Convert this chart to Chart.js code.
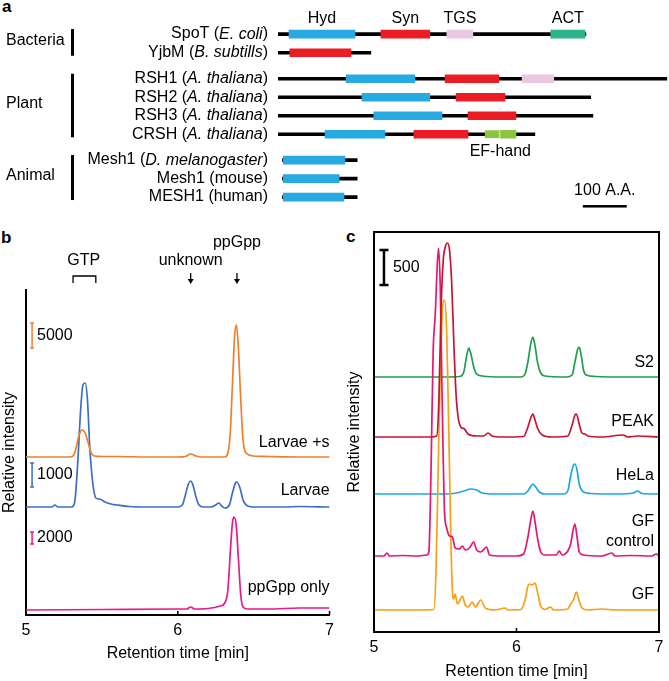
<!DOCTYPE html>
<html>
<head>
<meta charset="utf-8">
<script src="https://cdn.jsdelivr.net/npm/chart.js@4.4.1/dist/chart.umd.min.js"></script>
<style>
  body { margin: 0; background: #fff; }
  #fig { position: relative; width: 669px; height: 681px; overflow: hidden; font-family: "Liberation Sans", Arial, sans-serif; }
  #fig canvas { position: absolute; }
  .panel { position: absolute; font-weight: bold; font-size: 17px; line-height: 1; }
</style>
</head>
<body>
<div id="fig">
  <div class="panel" style="left:2px;top:-2px">a</div>
  <div class="panel" style="left:1px;top:229px">b</div>
  <div class="panel" style="left:346px;top:228px">c</div>
  <canvas id="aBact" width="669" height="64" style="left:0;top:0"></canvas>
  <canvas id="aPlant" width="669" height="96" style="left:0;top:64px"></canvas>
  <canvas id="aAnimal" width="669" height="64" style="left:0;top:148px"></canvas>
  <canvas id="chartB" width="340" height="451" style="left:0;top:230px"></canvas>
  <canvas id="chartC" width="339" height="451" style="left:330px;top:230px"></canvas>
</div>
<script>
// ---------- panel a : domain structure (amino acids) ----------
const bactNames = ['SpoT (*E. coli*)', 'YjbM (*B. subtills*)'];
const bactSpan  = [[0, 700], [0, 211]];
const bactHyd   = [[25, 175], null];
const bactSyn   = [[234, 345], [27, 166]];
const bactTGS   = [[384, 443], null];
const bactACT   = [[620, 698], null];

const plantNames = ['RSH1 (*A. thaliana*)', 'RSH2 (*A. thaliana*)', 'RSH3 (*A. thaliana*)', 'CRSH (*A. thaliana*)'];
const plantSpan  = [[0, 884], [0, 711], [0, 716], [0, 584]];
const plantHyd   = [[155, 311], [191, 345], [218, 373], [107, 243]];
const plantSyn   = [[380, 502], [405, 516], [432, 541], [309, 432]];
const plantTGS   = [[555, 627], null, null, null];
const plantEF1   = [null, null, null, [470, 505]];
const plantEF2   = [null, null, null, [505, 541]];

const animalNames = ['Mesh1 (*D. melanogaster*)', 'Mesh1 (mouse)', 'MESH1 (human)'];
const animalSpan  = [[10, 180], [10, 180], [10, 180]];
const animalHyd   = [[12, 152], [12, 139], [12, 150]];

const scaleBarAA = 100;
const scaleBarStart = 693;

// ---------- panel b : chromatograms ----------
const larvaeSX = [5.00,5.10,5.20,5.28,5.31,5.33,5.35,5.37,5.39,5.41,5.43,5.45,5.50,5.60,5.80,6.00,6.05,6.085,6.12,6.16,6.25,6.31,6.33,6.345,6.36,6.375,6.387,6.40,6.415,6.43,6.45,6.50,6.60,6.80,7.00];
const larvaeSY = [158,158,158,158,159,167,180,185,182,172,162,159,158.5,158.5,158,158,158.5,161,159,158,158,158,162,180,230,280,290,265,215,175,162,159,158.5,158,158];

const larvaeX = [5.00,5.10,5.17,5.19,5.21,5.30,5.32,5.34,5.36,5.375,5.39,5.405,5.42,5.44,5.46,5.48,5.50,5.52,5.56,5.60,5.68,5.80,6.00,6.03,6.05,6.07,6.085,6.10,6.12,6.14,6.17,6.22,6.25,6.27,6.29,6.31,6.34,6.36,6.38,6.39,6.41,6.43,6.46,6.50,6.70,6.80,7.00];
const larvaeY = [108,108,108,110,108,108,112,150,205,230,232,215,168,132,117,116,115,113,111,110,108.5,108,108,110,120,131,134,130,118,110,108,108,110,112,109,107,110,122,132,133,127,115,109,108,108,108.5,108];

const ppGppX = [5.00,5.50,6.00,6.06,6.085,6.11,6.20,6.28,6.31,6.33,6.345,6.36,6.37,6.385,6.40,6.415,6.43,6.46,6.60,6.80,7.00];
const ppGppY = [5,5.5,6,6,8,6,6.5,9,12,25,60,92,98,90,55,20,8,6,6,7,7];

const bNames  = ['Larvae +s', 'Larvae', 'ppGpp only'];
const bColors = ['#ef7f2f', '#3c6fc4', '#e8198b'];
const bNameY  = [172, 124, 27];
const bScaleLabels = ['5000', '1000', '2000'];
const bScaleLow  = [267, 128, 71];
const bScaleHigh = [292, 152, 83];
const bScaleX = 5.04;
const bAnnot  = ['GTP', 'unknown', 'ppGpp'];
const bAnnotX = [5.38, 6.085, 6.39];
const gtpBracket = [5.31, 5.46];

// ---------- panel c : chromatograms ----------
const s2X = [5.00,5.50,5.60,5.63,5.65,5.665,5.68,5.70,5.72,5.76,5.90,6.03,6.06,6.08,6.10,6.115,6.13,6.15,6.17,6.20,6.35,6.39,6.41,6.43,6.44,6.455,6.47,6.49,6.55,6.80,7.00];
const s2Y = [255,255,255.5,260,276,284,278,265,258,256,255,255,258,270,288,295,286,268,259,256,255,257,270,283,285,276,262,257,255.5,255,255];

const peakX = [5.00,5.20,5.40,5.44,5.455,5.47,5.485,5.50,5.515,5.53,5.545,5.56,5.575,5.59,5.61,5.635,5.66,5.72,5.77,5.80,5.83,5.90,6.05,6.08,6.10,6.115,6.13,6.15,6.18,6.25,6.36,6.39,6.41,6.42,6.44,6.46,6.48,6.50,6.60,6.75,6.78,6.85,7.00];
const peakY = [195,195,195,196,230,320,370,385,389,382,350,290,240,215,205,203,198,196,196,199,196,195,195.5,205,214,218,212,203,197,195,196,207,217,218,208,199,198,196,195,197,195,196,195];

const helaX = [5.00,5.50,5.58,5.63,5.68,5.72,5.76,5.85,6.05,6.08,6.10,6.115,6.13,6.16,6.20,6.33,6.36,6.38,6.40,6.41,6.425,6.44,6.47,6.52,6.70,6.82,6.85,6.88,7.00];
const helaY = [138,138,139,141,143,142,139,138,138,141,145.5,148,146,140,138,138,141,156,167,168,162,148,140,138.5,138,139,141,138.5,138];

const gfCtrlX = [5.00,5.07,5.09,5.11,5.20,5.30,5.37,5.385,5.40,5.415,5.43,5.445,5.453,5.465,5.475,5.485,5.495,5.51,5.53,5.55,5.57,5.60,5.62,5.64,5.67,5.70,5.72,5.75,5.79,5.81,5.90,6.00,6.05,6.08,6.10,6.115,6.13,6.15,6.17,6.20,6.28,6.30,6.32,6.36,6.38,6.40,6.41,6.425,6.44,6.47,6.60,6.67,6.69,6.80,6.95,6.98,7.00];
const gfCtrlY = [76,76,79,76,76.5,76,77,80,160,280,318,370,384,345,260,180,120,104,96,95,84,83,86,82,84,90,82,80,85,77,76,76,78,95,112,121,110,92,80,77,77,81,77,81,88,104,108,95,80,77,76,79,76,76.5,76,78,76];

const gfX = [5.00,5.30,5.42,5.435,5.45,5.465,5.48,5.495,5.51,5.525,5.54,5.55,5.56,5.57,5.585,5.60,5.62,5.64,5.66,5.69,5.71,5.75,5.78,5.85,5.92,5.94,6.03,6.06,6.08,6.09,6.11,6.13,6.15,6.17,6.20,6.24,6.26,6.36,6.38,6.40,6.42,6.44,6.46,6.50,6.60,6.70,7.00];
const gfY = [22,22,22.5,60,160,260,320,332,300,200,90,42,33,38,28,31,36,27,25,30,25,32,24,22,24,22,22.5,32,46,48,47,49,38,26,22.5,25,22,23,28,32,40,31,24,22,23,22,22];

const cNames  = ['S2', 'PEAK', 'HeLa', 'GF\ncontrol', 'GF'];
const cColors = ['#1f9e4b', '#c9142f', '#1ea6e3', '#e5176f', '#f7a115'];
const cNameY  = [269, 210, 156, 100, 37];
const cScaleLabel = '500';
const cScaleLow = 347, cScaleHigh = 382, cScaleX = 5.07;

// =============================================================
const FAMILY = '"Liberation Sans", Arial, sans-serif';
Chart.defaults.font.family = FAMILY;
Chart.defaults.font.size = 16;
Chart.defaults.color = '#000';
Chart.defaults.animation = false;
Chart.defaults.plugins.legend.display = false;
Chart.defaults.plugins.tooltip.enabled = false;

const domainColors = { Hyd: '#27a9e1', Syn: '#ec1c24', TGS: '#ebc8e2', ACT: '#2bb38b', 'EF-hand': '#8cc540' };

// label text with *italic* parts, right aligned
function drawMixed(ctx, text, xRight, y) {
  const parts = text.split('*');
  const widths = parts.map((p, i) => {
    ctx.font = (i % 2 ? 'italic ' : '') + '16px ' + FAMILY;
    return ctx.measureText(p).width;
  });
  let x = xRight - widths.reduce((a, b) => a + b, 0);
  ctx.textAlign = 'left';
  parts.forEach((p, i) => {
    ctx.font = (i % 2 ? 'italic ' : '') + '16px ' + FAMILY;
    ctx.fillText(p, x, y);
    x += widths[i];
  });
}

function domainPlugin(opts) {
  return {
    id: 'domainText',
    afterDatasetsDraw(chart) {
      const { ctx, chartArea: area, scales: { x, y } } = chart;
      const names = chart.data.labels;
      ctx.save();
      ctx.fillStyle = '#000';
      ctx.textBaseline = 'middle';
      names.forEach((nm, i) => drawMixed(ctx, nm, area.left - 10, y.getPixelForValue(i)));

      const y0 = y.getPixelForValue(0), y1 = y.getPixelForValue(names.length - 1);
      ctx.font = '16px ' + FAMILY;
      ctx.textAlign = 'left';
      ctx.fillText(opts.group, 6, (y0 + y1) / 2 - 3);
      ctx.fillRect(71, y0 - 5, 3, y1 - y0 + 8);

      ctx.textAlign = 'center';
      if (opts.titles) {
        chart.data.datasets.forEach(ds => {
          if (ds.label === 'backbone' || !ds.data[0]) return;
          const [s, e] = ds.data[0];
          ctx.fillText(ds.label, x.getPixelForValue((s + e) / 2), y0 - 15);
        });
      }
      if (opts.efRow != null) {
        const ef = chart.data.datasets.filter(ds => ds.label === 'EF-hand').map(ds => ds.data[opts.efRow]);
        const s = Math.min(...ef.map(d => d[0])), e = Math.max(...ef.map(d => d[1]));
        ctx.fillText('EF-hand', x.getPixelForValue((s + e) / 2), y.getPixelForValue(opts.efRow) + 17);
      }
      if (opts.scaleBar) {
        const xa = x.getPixelForValue(scaleBarStart), xb = x.getPixelForValue(scaleBarStart + scaleBarAA);
        ctx.fillText(scaleBarAA + ' A.A.', (xa + xb) / 2, y1 - 6);
        ctx.fillRect(xa, y1 + 8, xb - xa, 2.5);
      }
      ctx.restore();
    }
  };
}

function domainChart(id, names, span, domains, padding, opts) {
  const datasets = [];
  domains.forEach(([name, data]) => {
    const ds = { label: name, data, backgroundColor: domainColors[name], barThickness: 8, grouped: false, borderSkipped: false };
    if (name === 'EF-hand' && data === plantEF1) {
      ds.borderColor = '#fff';
      ds.borderWidth = { top: 0, bottom: 0, left: 0, right: 1 };
    }
    datasets.push(ds);
  });
  datasets.push({ label: 'backbone', data: span, backgroundColor: '#000', barThickness: 3, grouped: false });
  return new Chart(document.getElementById(id), {
    type: 'bar',
    data: { labels: names, datasets },
    options: {
      responsive: false,
      indexAxis: 'y',
      layout: { padding },
      scales: {
        x: { type: 'linear', min: 0, max: 889, display: false },
        y: { type: 'category', offset: true, display: false }
      }
    },
    plugins: [domainPlugin(opts)]
  });
}

domainChart('aBact', bactNames, bactSpan,
  [['Hyd', bactHyd], ['Syn', bactSyn], ['TGS', bactTGS], ['ACT', bactACT]],
  { left: 278, right: 0, top: 24.7, bottom: 1.9 }, { group: 'Bacteria', titles: true });

domainChart('aPlant', plantNames, plantSpan,
  [['Hyd', plantHyd], ['Syn', plantSyn], ['TGS', plantTGS], ['EF-hand', plantEF1], ['EF-hand', plantEF2]],
  { left: 278, right: 0, top: 5.5, bottom: 16.5 }, { group: 'Plant', efRow: 3 });

domainChart('aAnimal', animalNames, animalSpan,
  [['Hyd', animalHyd]],
  { left: 278, right: 0, top: 2.8, bottom: 5.7 }, { group: 'Animal', scaleBar: true });

// ---------- chromatogram helpers ----------
const pts = (xs, ys) => xs.map((x, i) => ({ x, y: ys[i] }));
const trace = (data, color) => ({ data, borderColor: color, borderWidth: 1.7, pointRadius: 0, cubicInterpolationMode: 'monotone', fill: false });

const innerTicks = {
  id: 'innerTicks',
  afterDraw(chart) {
    const { ctx, chartArea: a, scales: { x } } = chart;
    ctx.save();
    ctx.strokeStyle = '#000';
    ctx.lineWidth = 1.5;
    x.ticks.forEach(t => {
      const px = x.getPixelForValue(t.value);
      ctx.beginPath(); ctx.moveTo(px, a.bottom); ctx.lineTo(px, a.bottom - 4); ctx.stroke();
    });
    ctx.restore();
  }
};

function scaleBar(ctx, px, yt, yb, color, cap, width) {
  ctx.strokeStyle = color;
  ctx.lineWidth = width;
  ctx.beginPath();
  ctx.moveTo(px, yt); ctx.lineTo(px, yb);
  ctx.moveTo(px - cap, yt); ctx.lineTo(px + cap, yt);
  ctx.moveTo(px - cap, yb); ctx.lineTo(px + cap, yb);
  ctx.stroke();
}

// ---------- panel b ----------
const bOverlay = {
  id: 'bOverlay',
  afterDatasetsDraw(chart) {
    const { ctx, chartArea: a, scales: { x, y } } = chart;
    ctx.save();
    ctx.font = '16px ' + FAMILY;
    ctx.fillStyle = '#000';
    ctx.textBaseline = 'middle';
    bScaleLabels.forEach((t, i) => {
      const px = x.getPixelForValue(bScaleX);
      const yt = y.getPixelForValue(bScaleHigh[i]), yb = y.getPixelForValue(bScaleLow[i]);
      scaleBar(ctx, px, yt, yb, bColors[i], 2, 1.5);
      ctx.textAlign = 'left';
      ctx.fillText(t, px + 5, (yt + yb) / 2);
    });
    ctx.textAlign = 'right';
    bNames.forEach((t, i) => ctx.fillText(t, a.right, y.getPixelForValue(bNameY[i])));

    // GTP / unknown / ppGpp marks above the plot
    ctx.textAlign = 'center';
    ctx.strokeStyle = '#000';
    ctx.lineWidth = 1.3;
    bAnnot.forEach((t, i) => {
      const px = x.getPixelForValue(bAnnotX[i]);
      if (t === 'GTP') {
        ctx.fillText(t, px, a.top - 29);
        const l = x.getPixelForValue(gtpBracket[0]), r = x.getPixelForValue(gtpBracket[1]);
        ctx.beginPath();
        ctx.moveTo(l, a.top - 7); ctx.lineTo(l, a.top - 14); ctx.lineTo(r, a.top - 14); ctx.lineTo(r, a.top - 7);
        ctx.stroke();
      } else {
        ctx.fillText(t, px, t === 'ppGpp' ? a.top - 47 : a.top - 29);
        ctx.beginPath(); ctx.moveTo(px, a.top - 17); ctx.lineTo(px, a.top - 9); ctx.stroke();
        ctx.beginPath(); ctx.moveTo(px - 3, a.top - 11); ctx.lineTo(px + 3, a.top - 11); ctx.lineTo(px, a.top - 6); ctx.closePath(); ctx.fill();
      }
    });
    ctx.restore();
  }
};

new Chart(document.getElementById('chartB'), {
  type: 'line',
  data: {
    datasets: [
      trace(pts(ppGppX, ppGppY), bColors[2]),
      trace(pts(larvaeSX, larvaeSY), bColors[0]),
      trace(pts(larvaeX, larvaeY), bColors[1])
    ]
  },
  options: {
    responsive: false,
    layout: { padding: { left: 0, right: 8, top: 60, bottom: 18 } },
    scales: {
      x: {
        type: 'linear', min: 5, max: 7,
        ticks: { stepSize: 1, padding: 6 },
        grid: { display: false, drawTicks: false },
        border: { color: '#000', width: 2 },
        title: { display: true, text: 'Retention time [min]', padding: 0 },
        afterFit: s => { s.height = 48; }
      },
      y: {
        min: 0, max: 325,
        ticks: { display: false },
        grid: { display: false, drawTicks: false },
        border: { color: '#000', width: 2 },
        title: { display: true, text: 'Relative intensity', padding: 0 },
        afterFit: s => { s.width = 26; }
      }
    }
  },
  plugins: [bOverlay, innerTicks]
});

// ---------- panel c ----------
const cOverlay = {
  id: 'cOverlay',
  afterDraw(chart) {
    const { ctx, chartArea: a, scales: { x, y } } = chart;
    ctx.save();
    ctx.strokeStyle = '#000';
    ctx.lineWidth = 2;
    ctx.strokeRect(a.left, a.top, a.right - a.left, a.bottom - a.top);

    const px = x.getPixelForValue(cScaleX);
    const yt = y.getPixelForValue(cScaleHigh), yb = y.getPixelForValue(cScaleLow);
    scaleBar(ctx, px, yt, yb, '#000', 4.5, 2.5);
    ctx.font = '16px ' + FAMILY;
    ctx.fillStyle = '#000';
    ctx.textBaseline = 'middle';
    ctx.textAlign = 'left';
    ctx.fillText(cScaleLabel, px + 9, (yt + yb) / 2);

    ctx.textAlign = 'right';
    cNames.forEach((t, i) => {
      const lines = t.split('\n');
      const yc = y.getPixelForValue(cNameY[i]);
      lines.forEach((ln, k) => ctx.fillText(ln, a.right - 5, yc + (k - (lines.length - 1) / 2) * 20));
    });
    ctx.restore();
  }
};

new Chart(document.getElementById('chartC'), {
  type: 'line',
  data: {
    datasets: [
      trace(pts(peakX, peakY), cColors[1]),
      trace(pts(gfCtrlX, gfCtrlY), cColors[3]),
      trace(pts(gfX, gfY), cColors[4]),
      trace(pts(s2X, s2Y), cColors[0]),
      trace(pts(helaX, helaY), cColors[2])
    ]
  },
  options: {
    responsive: false,
    layout: { padding: { left: 15, right: 10, top: 2, bottom: 0 } },
    scales: {
      x: {
        type: 'linear', min: 5, max: 7,
        ticks: { stepSize: 1, padding: 5.5 },
        grid: { display: false, drawTicks: false },
        border: { display: false },
        title: { display: true, text: 'Retention time [min]', padding: 0 },
        afterFit: s => { s.height = 49; }
      },
      y: {
        min: 0, max: 400,
        ticks: { display: false },
        grid: { display: false, drawTicks: false },
        border: { display: false },
        title: { display: true, text: 'Relative intensity', padding: 0 },
        afterFit: s => { s.width = 29; }
      }
    }
  },
  plugins: [cOverlay, innerTicks]
});
</script>
</body>
</html>
